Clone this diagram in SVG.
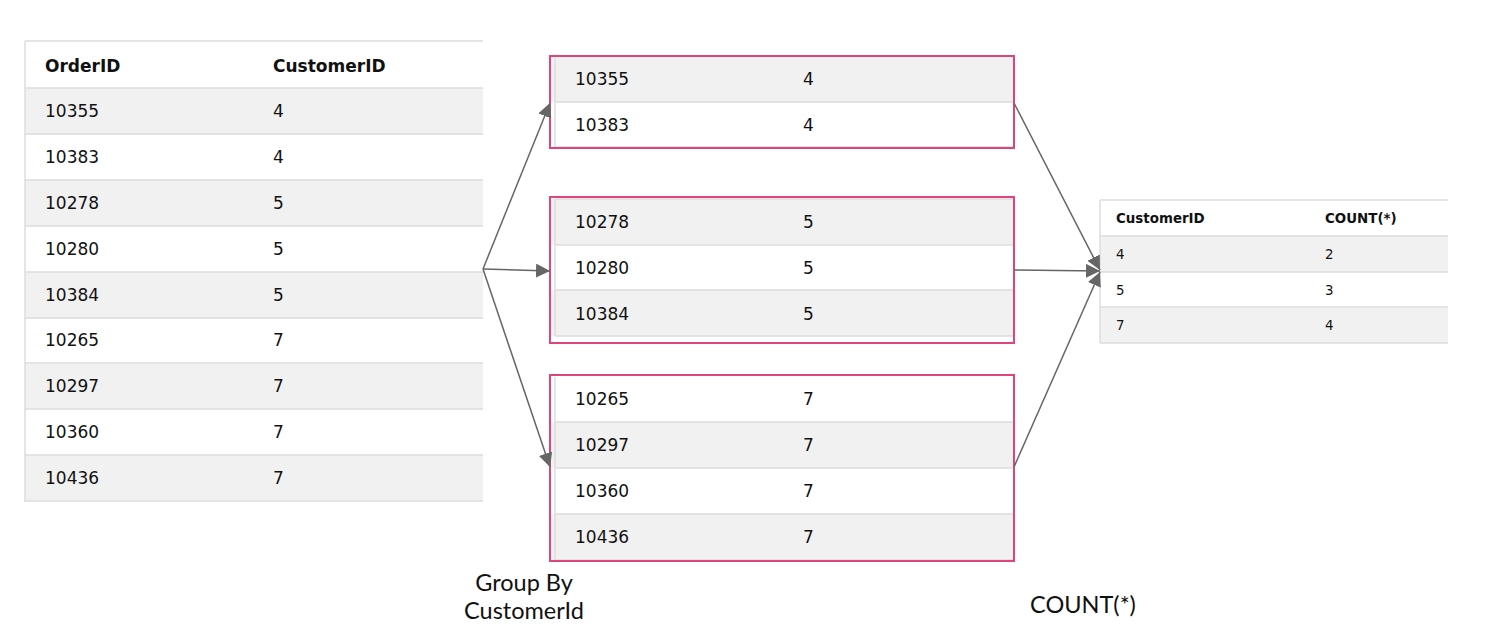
<svg xmlns="http://www.w3.org/2000/svg" width="1490" height="634" viewBox="0 0 1490 634">
<style>
.g{fill:#f1f1f1}
.w{fill:#ffffff}
.sep{stroke:#dddddd;stroke-width:1.5}
.t{font-family:"DejaVu Sans",Verdana,sans-serif;font-size:17px;fill:#111}
.th{font-family:"DejaVu Sans",Verdana,sans-serif;font-size:17px;font-weight:bold;fill:#111}
.s{font-family:"DejaVu Sans",Verdana,sans-serif;font-size:13.4px;fill:#111}
.sh{font-family:"DejaVu Sans",Verdana,sans-serif;font-size:13.4px;font-weight:bold;fill:#111}
.box{fill:none;stroke:#e0447f;stroke-width:2}
.lab{font-family:Lato,"Liberation Sans",sans-serif;font-size:23.5px;fill:#111;text-anchor:middle}
.c{stroke:#666;stroke-width:1.5;fill:none;marker-end:url(#ah)}
</style>
<defs>
<marker id="ah" viewBox="0 0 10 10" refX="10" refY="5" markerWidth="14" markerHeight="14" markerUnits="userSpaceOnUse" orient="auto">
<path d="M0,0 L10,5 L0,10 z" fill="#666"/>
</marker>
</defs>
<rect width="1490" height="634" fill="#fff"/>

<g id="orders-table">
<rect class="w" x="25" y="41" width="458" height="47"/>
<rect class="g" x="25" y="88" width="458" height="46"/>
<rect class="w" x="25" y="134" width="458" height="46"/>
<rect class="g" x="25" y="180" width="458" height="46"/>
<rect class="w" x="25" y="226" width="458" height="46"/>
<rect class="g" x="25" y="272" width="458" height="46"/>
<rect class="w" x="25" y="318" width="458" height="45"/>
<rect class="g" x="25" y="363" width="458" height="46"/>
<rect class="w" x="25" y="409" width="458" height="46"/>
<rect class="g" x="25" y="455" width="458" height="46"/>
<line class="sep" x1="25" y1="41" x2="483" y2="41"/>
<line class="sep" x1="25" y1="41" x2="25" y2="502"/>
<line class="sep" x1="25" y1="88" x2="483" y2="88"/>
<line class="sep" x1="25" y1="134" x2="483" y2="134"/>
<line class="sep" x1="25" y1="180" x2="483" y2="180"/>
<line class="sep" x1="25" y1="226" x2="483" y2="226"/>
<line class="sep" x1="25" y1="272" x2="483" y2="272"/>
<line class="sep" x1="25" y1="318" x2="483" y2="318"/>
<line class="sep" x1="25" y1="363" x2="483" y2="363"/>
<line class="sep" x1="25" y1="409" x2="483" y2="409"/>
<line class="sep" x1="25" y1="455" x2="483" y2="455"/>
<line class="sep" x1="25" y1="501" x2="483" y2="501"/>
<text class="th" x="45" y="72">OrderID</text><text class="th" x="273" y="72">CustomerID</text>
<text class="t" x="45" y="117">10355</text><text class="t" x="273" y="117">4</text>
<text class="t" x="45" y="163">10383</text><text class="t" x="273" y="163">4</text>
<text class="t" x="45" y="209">10278</text><text class="t" x="273" y="209">5</text>
<text class="t" x="45" y="255">10280</text><text class="t" x="273" y="255">5</text>
<text class="t" x="45" y="301">10384</text><text class="t" x="273" y="301">5</text>
<text class="t" x="45" y="346">10265</text><text class="t" x="273" y="346">7</text>
<text class="t" x="45" y="392">10297</text><text class="t" x="273" y="392">7</text>
<text class="t" x="45" y="438">10360</text><text class="t" x="273" y="438">7</text>
<text class="t" x="45" y="484">10436</text><text class="t" x="273" y="484">7</text>
</g>

<g id="group-4">
<rect class="g" x="551" y="57" width="462" height="45"/>
<rect class="w" x="551" y="102" width="462" height="45"/>
<line class="sep" x1="555" y1="57" x2="555" y2="147"/>
<line class="sep" x1="555" y1="102" x2="1013" y2="102"/>
<line class="sep" x1="555" y1="147" x2="1013" y2="147"/>
<text class="t" x="575" y="85">10355</text><text class="t" x="803" y="85">4</text>
<text class="t" x="575" y="131">10383</text><text class="t" x="803" y="131">4</text>
<rect class="box" x="550" y="56" width="464" height="92"/>
</g>

<g id="group-5">
<rect class="g" x="551" y="199" width="462" height="46"/>
<rect class="w" x="551" y="245" width="462" height="45"/>
<rect class="g" x="551" y="290" width="462" height="46"/>
<line class="sep" x1="555" y1="199" x2="555" y2="336"/>
<line class="sep" x1="555" y1="199" x2="1013" y2="199"/>
<line class="sep" x1="555" y1="245" x2="1013" y2="245"/>
<line class="sep" x1="555" y1="290" x2="1013" y2="290"/>
<line class="sep" x1="555" y1="336" x2="1013" y2="336"/>
<text class="t" x="575" y="228">10278</text><text class="t" x="803" y="228">5</text>
<text class="t" x="575" y="274">10280</text><text class="t" x="803" y="274">5</text>
<text class="t" x="575" y="320">10384</text><text class="t" x="803" y="320">5</text>
<rect class="box" x="550" y="197" width="464" height="146"/>
</g>

<g id="group-7">
<rect class="w" x="551" y="377" width="462" height="45"/>
<rect class="g" x="551" y="422" width="462" height="46"/>
<rect class="w" x="551" y="468" width="462" height="46"/>
<rect class="g" x="551" y="514" width="462" height="46"/>
<line class="sep" x1="555" y1="377" x2="555" y2="560"/>
<line class="sep" x1="555" y1="422" x2="1013" y2="422"/>
<line class="sep" x1="555" y1="468" x2="1013" y2="468"/>
<line class="sep" x1="555" y1="514" x2="1013" y2="514"/>
<line class="sep" x1="555" y1="560" x2="1013" y2="560"/>
<text class="t" x="575" y="405">10265</text><text class="t" x="803" y="405">7</text>
<text class="t" x="575" y="451">10297</text><text class="t" x="803" y="451">7</text>
<text class="t" x="575" y="497">10360</text><text class="t" x="803" y="497">7</text>
<text class="t" x="575" y="543">10436</text><text class="t" x="803" y="543">7</text>
<rect class="box" x="550" y="375" width="464" height="186"/>
</g>

<g id="result-table">
<rect class="w" x="1100" y="200" width="348" height="36"/>
<rect class="g" x="1100" y="236" width="348" height="36"/>
<rect class="w" x="1100" y="272" width="348" height="35"/>
<rect class="g" x="1100" y="307" width="348" height="36"/>
<line class="sep" x1="1100" y1="200" x2="1448" y2="200"/>
<line class="sep" x1="1100" y1="200" x2="1100" y2="343"/>
<line class="sep" x1="1100" y1="236" x2="1448" y2="236"/>
<line class="sep" x1="1100" y1="272" x2="1448" y2="272"/>
<line class="sep" x1="1100" y1="307" x2="1448" y2="307"/>
<line class="sep" x1="1100" y1="343" x2="1448" y2="343"/>
<text class="sh" x="1116" y="223">CustomerID</text><text class="sh" x="1325" y="223">COUNT(*)</text>
<text class="s" x="1116" y="259">4</text><text class="s" x="1325" y="259">2</text>
<text class="s" x="1116" y="295">5</text><text class="s" x="1325" y="295">3</text>
<text class="s" x="1116" y="330">7</text><text class="s" x="1325" y="330">4</text>
</g>

<g id="connectors">
<line class="c" x1="483" y1="269" x2="550" y2="103"/>
<line class="c" x1="483" y1="269" x2="550" y2="271"/>
<line class="c" x1="483" y1="269" x2="550" y2="467"/>
<line class="c" x1="1014" y1="103" x2="1100" y2="270"/>
<line class="c" x1="1014" y1="270" x2="1100" y2="271"/>
<line class="c" x1="1014" y1="467" x2="1100" y2="272"/>
</g>

<g id="labels">
<text class="lab" x="524" y="591">Group By</text>
<text class="lab" x="524" y="619">CustomerId</text>
<text class="lab" x="1083" y="613">COUNT(*)</text>
</g>
</svg>
